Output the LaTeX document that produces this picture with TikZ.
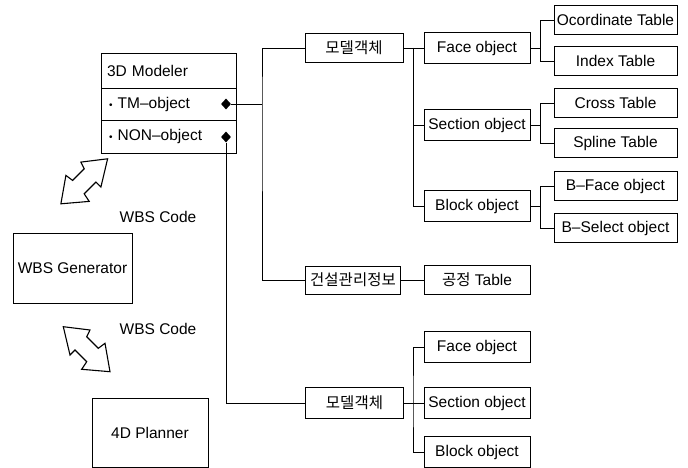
\documentclass[tikz,border=0pt]{standalone}
\usepackage{fontspec}
\setmainfont{Liberation Sans}
\newfontfamily\kr{Noto Sans CJK KR}
\usetikzlibrary{shapes.geometric}
\begin{document}
\begin{tikzpicture}[x=1pt,y=-1pt,
  every node/.style={font=\fontsize{15.5}{18}\selectfont},
  box/.style={draw, line width=0.8pt, inner sep=0pt, align=center},
  rbox/.style={box, minimum width=123pt, minimum height=29pt},
  mbox/.style={box, minimum width=106pt, minimum height=31pt},
  lbox/.style={box, minimum width=98pt, minimum height=29pt},
  mrow/.style={box, minimum width=135pt, text width=123pt, align=left},
  conn/.style={line width=0.7pt},
  dia/.style={diamond, fill=black, inner sep=0pt, minimum width=10pt, minimum height=11pt},
  dblarrow/.style={draw, line width=1.1pt, fill=white, line join=miter}
]
\useasboundingbox (0,0) rectangle (688,468);

% 3D Modeler
\node[mrow, minimum height=35pt] (dmh) at (168.5,70.5) {3D Modeler};
\node[mrow, minimum height=32pt] (dmt) at (168.5,104) {\hspace{2pt}{\fontsize{10}{10}\selectfont\textbullet}\ TM–object};
\node[mrow, minimum height=33pt] (dmn) at (168.5,136.5) {\hspace{2pt}{\fontsize{10}{10}\selectfont\textbullet}\ NON–object};
\node[dia] (d1) at (226,104) {};
\node[dia] (d2) at (226,137) {};

% left side
\node[box, minimum width=119pt, minimum height=70pt] (wg) at (72.5,268) {WBS Generator};
\node[box, minimum width=116pt, minimum height=69pt] (pl) at (150,432.5) {4D Planner};
\node (wc1) at (158,217) {WBS Code};
\node (wc2) at (158,329) {WBS Code};

% upper group
\node[lbox] (mg1) at (354,48) {\kr 모델객체};
\node[mbox] (fo1) at (477,48) {Face object};
\node[mbox] (so1) at (477,125) {Section object};
\node[mbox] (bo1) at (477,206) {Block object};
\node[rbox] (oct) at (615.5,20) {Ocordinate Table};
\node[rbox] (idx) at (615.5,61) {Index Table};
\node[rbox] (crs) at (615.5,103) {Cross Table};
\node[rbox] (spl) at (615.5,143) {Spline Table};
\node[rbox] (bfc) at (615.5,186) {B–Face object};
\node[rbox] (bsl) at (615.5,228) {B–Select object};

% construction info
\node[box, minimum width=95pt, minimum height=28pt] (kg) at (353,280) {\kr 건설관리정보};
\node[mbox, minimum height=29pt] (gt) at (477,280) {{\kr 공정} Table};

% lower group
\node[lbox, minimum height=31pt] (mg2) at (354.5,403) {\kr 모델객체};
\node[mbox] (fo2) at (477,347) {Face object};
\node[mbox] (so2) at (477,403) {Section object};
\node[mbox] (bo2) at (477,452) {Block object};

% connectors
\coordinate (j1) at (262,104);
\draw[conn] (d1.east) -- (j1);
\draw[conn] (mg1.west) -| (j1) |- (kg.west);
\draw[conn] (d2.south) |- (mg2.west);

\draw[conn] (mg1.east) -- (fo1.west);
\coordinate (j2) at (413,48);
\draw[conn] (j2) |- (so1.west);
\draw[conn] (j2) |- (bo1.west);

\coordinate (x1) at (540,48);
\draw[conn] (fo1.east) -- (x1);
\draw[conn] (oct.west) -| (x1);
\draw[conn] (idx.west) -| (x1);

\coordinate (x2) at (540,125);
\draw[conn] (so1.east) -- (x2);
\draw[conn] (crs.west) -| (x2);
\draw[conn] (spl.west) -| (x2);

\coordinate (x3) at (540,206);
\draw[conn] (bo1.east) -- (x3);
\draw[conn] (bfc.west) -| (x3);
\draw[conn] (bsl.west) -| (x3);

\draw[conn] (kg.east) -- (gt.west);

\draw[conn] (mg2.east) -- (so2.west);
\coordinate (j4) at (413,403);
\draw[conn] (fo2.west) -| (j4) |- (bo2.west);

% double arrows
\draw[dblarrow] (107.6,158.8) -- (80.9,162.1) -- (84.2,168.8) -- (72.6,180.4) -- (65.9,175.4)
  -- (60.9,203.8) -- (89.2,201.4) -- (84.2,193.8) -- (95.9,182.1) -- (100.9,187.1) -- cycle;
\draw[dblarrow] (63.3,326.7) -- (90,330) -- (86.7,336.7) -- (98.3,348.3) -- (105,343.3)
  -- (110,371.7) -- (81.7,369.3) -- (86.7,361.7) -- (75,350) -- (70,355) -- cycle;
\end{tikzpicture}
\end{document}
